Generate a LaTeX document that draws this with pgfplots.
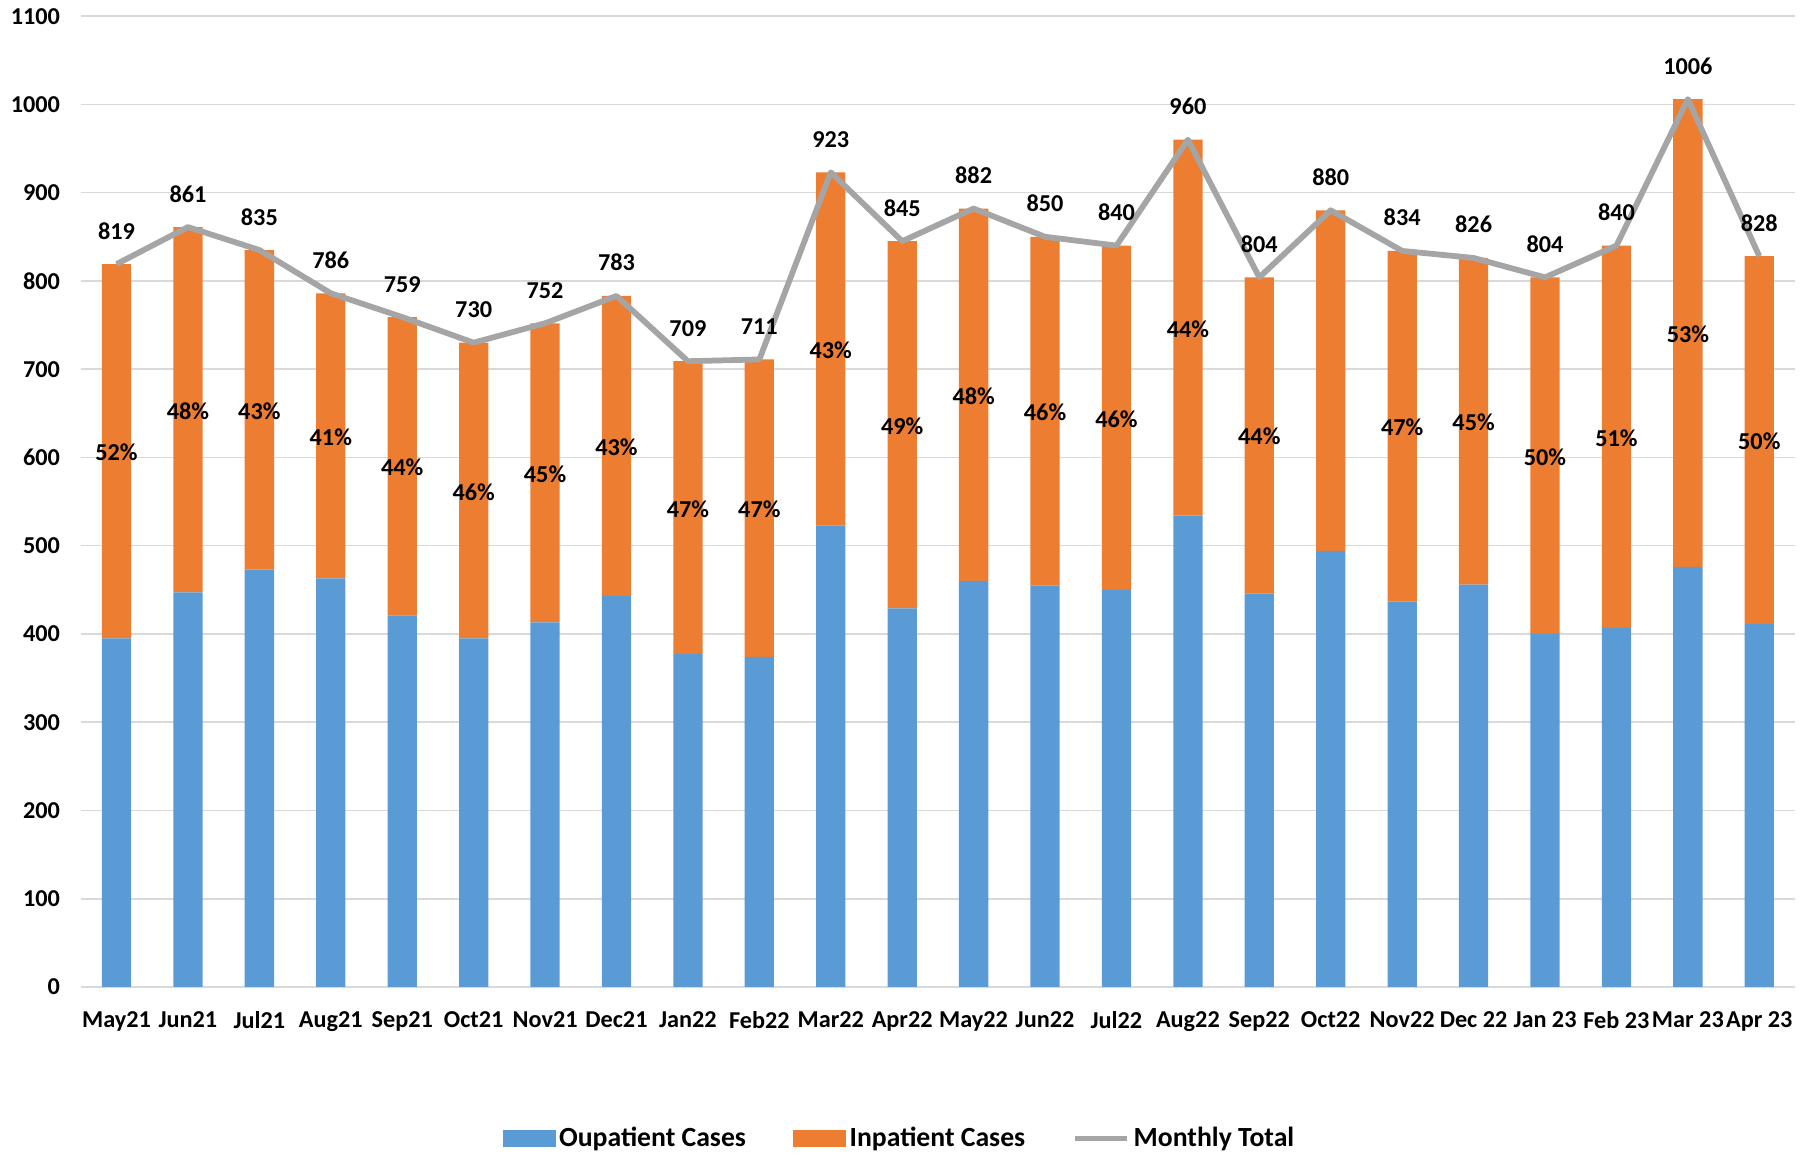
\documentclass[border=0pt]{standalone}
\usepackage{fontspec}
\setmainfont{Carlito}
\usepackage{pgfplots}
\usepackage{pgfplotstable}
\pgfplotsset{compat=1.18}
\definecolor{cOut}{HTML}{5B9BD5}
\definecolor{cIn}{HTML}{ED7D31}
\definecolor{cTot}{HTML}{A5A5A5}
\definecolor{cGrid}{HTML}{D9D9D9}

\pgfplotstableread{
x out in total pct
0 395 424 819 52
1 447 414 861 48
2 473 362 835 43
3 463 323 786 41
4 421 338 759 44
5 395 335 730 46
6 413 339 752 45
7 443 340 783 43
8 377 332 709 47
9 374 337 711 47
10 523 400 923 43
11 429 416 845 49
12 460 422 882 48
13 455 395 850 46
14 450 390 840 46
15 534 426 960 44
16 446 358 804 44
17 494 386 880 44
18 437 397 834 47
19 456 370 826 45
20 400 404 804 50
21 407 433 840 51
22 476 530 1006 53
23 411 417 828 50
}\data

% percentage labels shown in the chart (Oct22 carries none)
\pgfplotstableread{
x out in pct
0 395 424 52
1 447 414 48
2 473 362 43
3 463 323 41
4 421 338 44
5 395 335 46
6 413 339 45
7 443 340 43
8 377 332 47
9 374 337 47
10 523 400 43
11 429 416 49
12 460 422 48
13 455 395 46
14 450 390 46
15 534 426 44
16 446 358 44
18 437 397 47
19 456 370 45
20 400 404 50
21 407 433 51
22 476 530 53
23 411 417 50
}\pcts

\begin{document}
\begin{tikzpicture}
\useasboundingbox (0,0) rectangle (784pt,500pt);
\pgfplotsset{base/.style={
  width=742.5pt, height=420.5pt, scale only axis,
  at={(35pt,72.5pt)}, anchor=south west,
  xmin=-0.5, xmax=23.5, ymin=0, ymax=1100, clip=false,
  /pgf/number format/1000 sep={},
  /pgf/number format/assume math mode=true,
}}
\begin{axis}[base,
  ybar stacked, bar width=0.41,
  ytick distance=100,
  xtick={0,...,23},
  xticklabels={May21,Jun21,Jul21,Aug21,Sep21,Oct21,Nov21,Dec21,Jan22,Feb22,Mar22,Apr22,May22,Jun22,Jul22,Aug22,Sep22,Oct22,Nov22,{Dec 22},{Jan 23},{Feb 23},{Mar 23},{Apr 23}},
  ymajorgrids, grid style={cGrid, line width=0.7pt},
  axis line style={draw=none}, tick style={draw=none},
  ticklabel style={font=\fontsize{10.5}{12}\selectfont\bfseries},
  yticklabel style={xshift=-5.5pt},
  xticklabel style={yshift=-7pt},
  legend columns=3,
  legend style={draw=none, fill=none, at={(0.478,-0.156)}, anchor=center,
    font=\fontsize{12}{14}\selectfont\bfseries,
    /tikz/every even column/.append style={column sep=19pt},
    nodes={inner sep=1.5pt}},
]
\addlegendimage{legend image code/.code={\fill[cOut] (0pt,-3.5pt) rectangle (22.5pt,3.5pt);}}
\addlegendentry{Oupatient Cases}
\addlegendimage{legend image code/.code={\fill[cIn] (0pt,-3.5pt) rectangle (22.5pt,3.5pt);}}
\addlegendentry{Inpatient Cases}
\addlegendimage{legend image code/.code={\draw[cTot, line width=2.5pt] (0pt,0pt) -- (22.5pt,0pt);}}
\addlegendentry{Monthly Total}
\addplot[fill=cOut, draw=none] table[x=x, y=out] {\data};
\addplot[fill=cIn, draw=none] table[x=x, y=in] {\data};
\end{axis}
\begin{axis}[base, hide axis]
\addplot[cTot, line width=2.5pt, line join=round, mark=none,
  point meta=\thisrow{total},
  nodes near coords={\pgfmathprintnumber[fixed,precision=0,1000 sep={}]{\pgfplotspointmeta}},
  every node near coord/.append style={font=\fontsize{10.5}{12}\selectfont\bfseries, text=black, inner sep=0pt, yshift=9.5pt}]
  table[x=x, y=total] {\data};
\addplot[draw=none, mark=none,
  point meta=explicit symbolic,
  nodes near coords={\pgfplotspointmeta\%},
  every node near coord/.append style={font=\fontsize{10.5}{12}\selectfont\bfseries, text=black, inner sep=0pt, yshift=-4.4pt}]
  table[x=x, y expr=\thisrow{out}+0.5*\thisrow{in}, meta=pct] {\pcts};
\end{axis}
\end{tikzpicture}
\end{document}
